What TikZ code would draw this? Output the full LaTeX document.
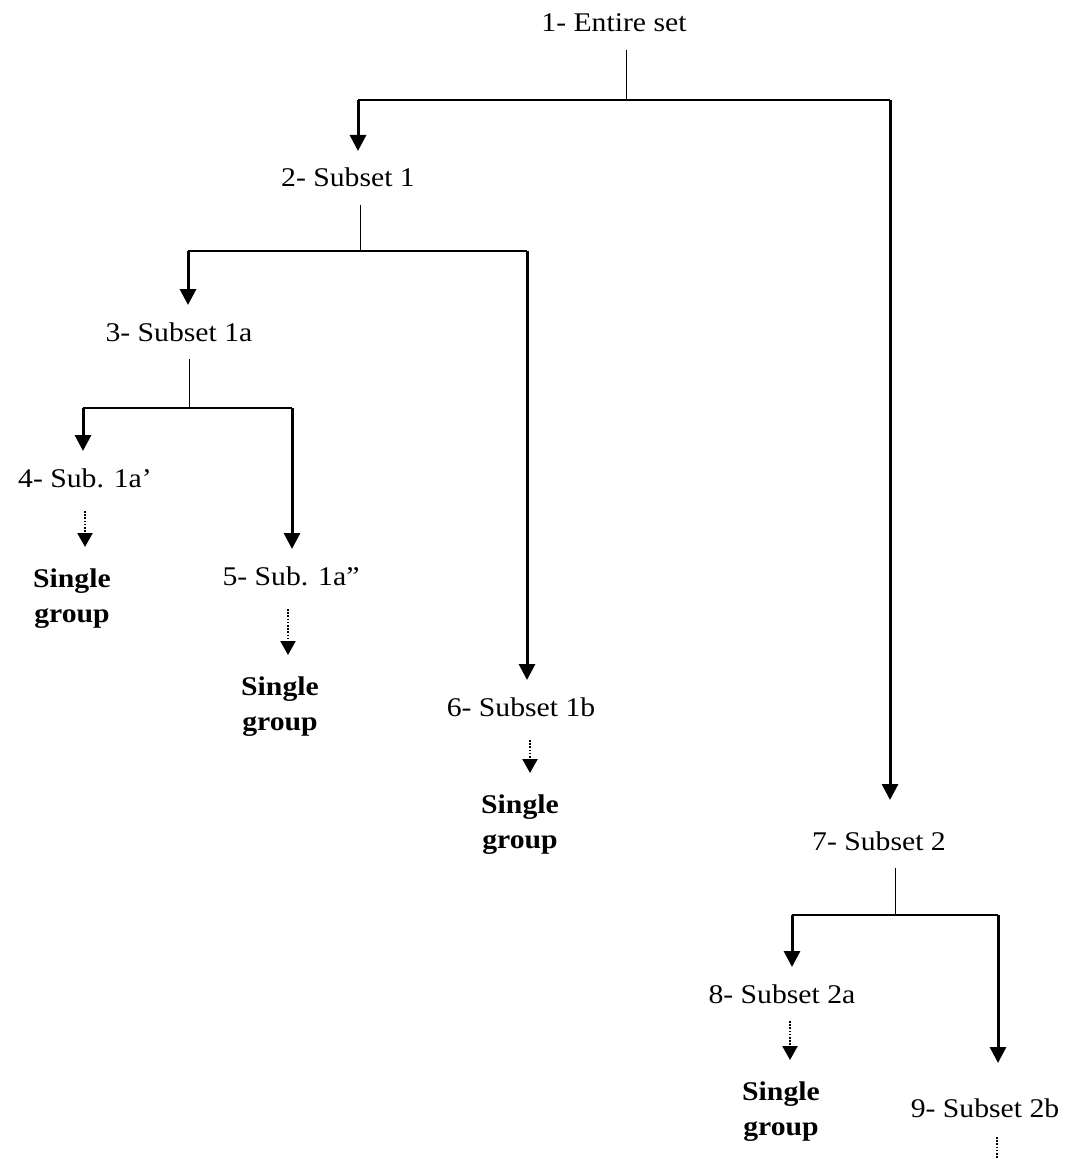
\documentclass[tikz,border=0pt]{standalone}
\usepackage{fontspec}
\setmainfont{Liberation Serif}[FakeStretch=1.1]
\usetikzlibrary{arrows.meta}

\begin{document}
\begin{tikzpicture}[x=1pt,y=-1pt,
        lbl/.style={inner sep=0pt,outer ysep=18pt,text height=18pt,text depth=0pt,anchor=base,font=\fontsize{27}{35}\selectfont},
        grp/.style={inner sep=0pt,align=center,anchor=north,font=\fontsize{27}{35}\selectfont\bfseries},
        stem/.style={line width=0.9pt},
        bar/.style={line width=2.6pt},
        arr/.style={line width=3pt,-{Triangle[width=16pt,length=16pt]}},
        dotarr/.style={line width=2.2pt,dash pattern=on 1.6pt off 1.6pt,shorten <=6pt,shorten >=22pt,-{Triangle[width=15pt,length=14pt]}},
        dotln/.style={line width=2.2pt,dash pattern=on 1.6pt off 1.6pt,shorten <=2pt}]
        \useasboundingbox (0,0) rectangle (1071,1158);

        \node[lbl] (n1) at (614,32) {1- Entire set};
        \node[lbl] (n2) at (348,187) {2- Subset 1};
        \node[lbl] (n3) at (179,341) {3- Subset 1a};
        \node[lbl] (n4) at (85,487) {4- Sub. 1a'};
        \node[lbl] (n5) at (291,585) {5- Sub. 1a''};
        \node[lbl] (n6) at (521,716) {6- Subset 1b};
        \node[lbl] (n7) at (879,850) {7- Subset 2};
        \node[lbl] (n8) at (782,1003) {8- Subset 2a};
        \node[lbl] (n9) at (985,1117) {9- Subset 2b};

        \node[grp] (g4) at (72,569) {Single\\group};
        \node[grp] (g5) at (280,677) {Single\\group};
        \node[grp] (g6) at (520,795) {Single\\group};
        \node[grp] (g8) at (781,1082) {Single\\group};

        \coordinate (j1) at (626,100);
        \coordinate (j1a) at (358,100);
        \coordinate (j1b) at (890,100);
        \coordinate (j2) at (360,251);
        \coordinate (j2a) at (188,251);
        \coordinate (j2b) at (527,251);
        \coordinate (j3) at (189,408);
        \coordinate (j3a) at (83,408);
        \coordinate (j3b) at (292,408);
        \coordinate (j7) at (895,915);
        \coordinate (j7a) at (792,915);
        \coordinate (j7b) at (998,915);
        \coordinate (e9) at (997,1158);

        \draw[stem] (n1.south -| j1) -- (j1);
        \draw[bar] (j1a) -- (j1b);
        \draw[arr] (j1a) -- (j1a |- n2.north);
        \draw[arr,shorten >=14pt] (j1b) -- (j1b |- n7.north);

        \draw[stem] (n2.south -| j2) -- (j2);
        \draw[bar] (j2a) -- (j2b);
        \draw[arr] (j2a) -- (j2a |- n3.north);
        \draw[arr] (j2b) -- (j2b |- n6.north);

        \draw[stem] (n3.south -| j3) -- (j3);
        \draw[bar] (j3a) -- (j3b);
        \draw[arr] (j3a) -- (j3a |- n4.north);
        \draw[arr] (j3b) -- (j3b |- n5.north);

        \draw[stem] (n7.south -| j7) -- (j7);
        \draw[bar] (j7a) -- (j7b);
        \draw[arr] (j7a) -- (j7a |- n8.north);
        \draw[arr,shorten >=18pt] (j7b) -- (j7b |- n9.north);

        \draw[dotarr] (n4.south) -- (n4.south |- g4.north);
        \draw[dotarr] ([xshift=-3pt]n5.south) -- ([xshift=-3pt]n5.south |- g5.north);
        \draw[dotarr] ([xshift=9pt]n6.south) -- ([xshift=9pt]n6.south |- g6.north);
        \draw[dotarr,shorten <=0pt] ([xshift=8pt]n8.south) -- ([xshift=8pt]n8.south |- g8.north);
        \draw[dotln] (n9.south -| e9) -- (e9);
\end{tikzpicture}
\end{document}
